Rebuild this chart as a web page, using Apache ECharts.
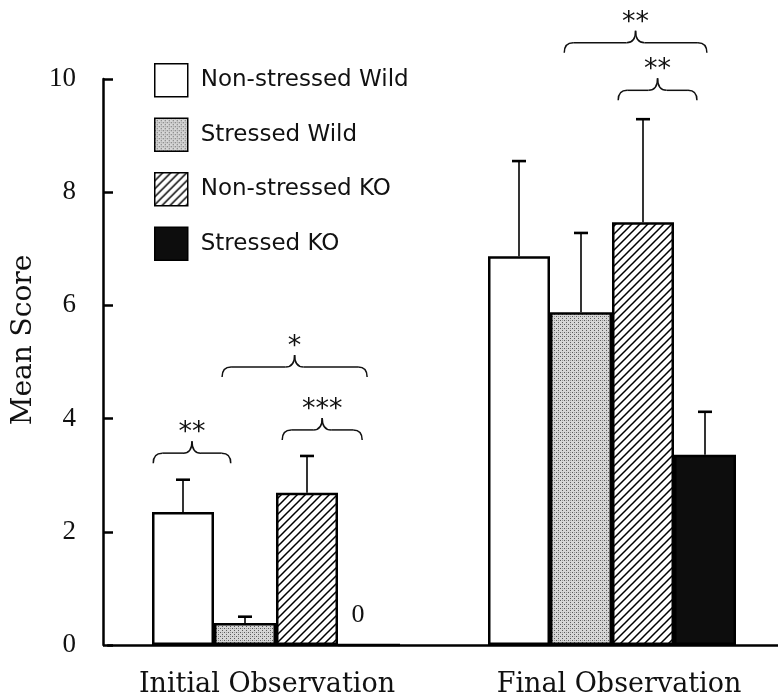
<!DOCTYPE html>
<html>
<head>
<meta charset="utf-8">
<script src="https://cdn.jsdelivr.net/npm/echarts@6/dist/echarts.min.js"></script>
<style>
  html, body { margin: 0; padding: 0; background: #fff; }
  #chart { width: 778px; height: 697px; }
</style>
</head>
<body>
<div id="chart"></div>
<script>
// categories and legend names
const categories = ['Initial Observation', 'Final Observation']
const seriesNames = ['Non-stressed Wild', 'Stressed Wild', 'Non-stressed KO', 'Stressed KO']

// mean scores (one value per category)
const nonStressedWild = [2.35, 6.87]
const stressedWild = [0.39, 5.88]
const nonStressedKO = [2.69, 7.47]
const stressedKO = [0, 3.36]

// top of the error bars
const nonStressedWildErr = [2.92, 8.55]
const stressedWildErr = [0.5, 7.28]
const nonStressedKOErr = [3.34, 9.29]
const stressedKOErr = [null, 4.12]

// y axis ticks
const yTicks = [0, 2, 4, 6, 8, 10]

// significance braces: category, first / last bar slot, level, stars
const braceCat = [0, 0, 0, 1, 1]
const braceFrom = [-0.48, 0.63, 1.6, 0.73, 1.6]
const braceTo = [0.77, 2.97, 2.89, 3.03, 2.87]
const braceLevel = [3.39, 4.91, 3.8, 10.64, 9.8]
const braceStars = ['**', '*', '***', '**', '**']

const BAR_W = 62

// fill patterns
const makeTile = (size, draw) => {
  const c = document.createElement('canvas')
  c.width = size
  c.height = size
  draw(c.getContext('2d'), size)
  return { image: c, repeat: 'repeat' }
}

const stipple = makeTile(4, (ctx) => {
  ctx.fillStyle = '#d6d6d6'
  ctx.fillRect(0, 0, 4, 4)
  ctx.fillStyle = '#5a5a5a'
  ctx.fillRect(0, 0, 1, 1)
  ctx.fillRect(2, 2, 1, 1)
  ctx.fillStyle = '#9a9a9a'
  ctx.fillRect(2, 0, 1, 1)
})

const hatch = makeTile(8, (ctx, s) => {
  ctx.fillStyle = '#fff'
  ctx.fillRect(0, 0, s, s)
  ctx.strokeStyle = '#000'
  ctx.lineWidth = 1.5
  ctx.beginPath()
  ctx.moveTo(-1, s + 1); ctx.lineTo(s + 1, -1)
  ctx.moveTo(-1, 1); ctx.lineTo(1, -1)
  ctx.moveTo(s - 1, s + 1); ctx.lineTo(s + 1, s - 1)
  ctx.stroke()
})

const fills = ['#ffffff', stipple, hatch, '#0d0d0d']
const means = [nonStressedWild, stressedWild, nonStressedKO, stressedKO]
const errs = [nonStressedWildErr, stressedWildErr, nonStressedKOErr, stressedKOErr]

const errData = []
errs.forEach((arr, s) => {
  arr.forEach((top, c) => {
    if (top != null) errData.push([c, s, means[s][c], top])
  })
})

const braceData = braceCat.map((c, i) => [c, braceFrom[i], braceTo[i], braceLevel[i]])

const chart = echarts.init(document.getElementById('chart'))

const barSeries = seriesNames.map((name, s) => ({
  name,
  type: 'bar',
  barWidth: BAR_W,
  barGap: '0%',
  data: means[s].map(v => v === 0
    ? { value: v, label: { show: true, position: 'top', distance: 16, offset: [-11, 0], formatter: '0' } }
    : v),
  label: {
    show: false,
    fontFamily: 'Liberation Serif',
    fontSize: 26,
    color: '#111'
  },
  itemStyle: {
    color: fills[s],
    borderColor: '#000',
    borderWidth: 2.5
  }
}))

const errSeries = {
  type: 'custom',
  z: 5,
  silent: true,
  data: errData,
  encode: { x: 0, y: 3 },
  renderItem: (params, api) => {
    const c = api.value(0)
    const s = api.value(1)
    const base = api.coord([c, api.value(2)])
    const top = api.coord([c, api.value(3)])
    const x = base[0] + (s - 1.5) * BAR_W
    return {
      type: 'group',
      children: [
        { type: 'line', shape: { x1: x, y1: base[1], x2: x, y2: top[1] }, style: { stroke: '#000', lineWidth: 1.6 } },
        { type: 'line', shape: { x1: x - 7, y1: top[1], x2: x + 7, y2: top[1] }, style: { stroke: '#000', lineWidth: 2.6 } }
      ]
    }
  }
}

const braceSeries = {
  type: 'custom',
  z: 6,
  silent: true,
  clip: false,
  data: braceData,
  encode: { x: 0, y: 3 },
  renderItem: (params, api) => {
    const p = api.coord([api.value(0), api.value(3)])
    const x0 = p[0] + (api.value(1) - 1.5) * BAR_W
    const x1 = p[0] + (api.value(2) - 1.5) * BAR_W
    const y = p[1]
    const xm = (x0 + x1) / 2
    const h = 10, t = 12, r = 9
    const st = { stroke: '#111', lineWidth: 1.5, fill: null }
    return {
      type: 'group',
      children: [
        { type: 'bezierCurve', shape: { x1: x0, y1: y + h, cpx1: x0, cpy1: y, x2: x0 + r, y2: y }, style: st },
        { type: 'line', shape: { x1: x0 + r, y1: y, x2: xm - r, y2: y }, style: st },
        { type: 'bezierCurve', shape: { x1: xm - r, y1: y, cpx1: xm, cpy1: y, x2: xm, y2: y - t }, style: st },
        { type: 'bezierCurve', shape: { x1: xm, y1: y - t, cpx1: xm, cpy1: y, x2: xm + r, y2: y }, style: st },
        { type: 'line', shape: { x1: xm + r, y1: y, x2: x1 - r, y2: y }, style: st },
        { type: 'bezierCurve', shape: { x1: x1 - r, y1: y, cpx1: x1, cpy1: y, x2: x1, y2: y + h }, style: st },
        {
          type: 'text',
          style: {
            x: xm, y: y - t - 8,
            text: braceStars[params.dataIndex],
            fontFamily: 'DejaVu Sans',
            fontSize: 27,
            fill: '#111',
            align: 'center',
            verticalAlign: 'middle'
          }
        }
      ]
    }
  }
}

const option = {
  animation: false,
  backgroundColor: '#fff',
  legend: {
    data: seriesNames,
    orient: 'vertical',
    left: 154,
    top: 63,
    padding: 0,
    itemWidth: 33,
    itemHeight: 33,
    itemGap: 20,
    icon: 'rect',
    itemStyle: { borderColor: '#000', borderWidth: 1.5 },
    textStyle: {
      fontFamily: 'DejaVu Sans',
      fontSize: 23,
      color: '#111',
      padding: [0, 0, 0, 8]
    }
  },
  grid: { left: 108, right: -2, top: 79, bottom: 52, outerBoundsMode: 'none', containLabel: false },
  xAxis: {
    type: 'category',
    data: categories,
    axisLine: { lineStyle: { color: '#000', width: 2.5 } },
    axisTick: { inside: true, length: 8, lineStyle: { color: '#000', width: 1.5 } },
    axisLabel: {
      margin: 26,
      formatter: (v, i) => i === 0 ? '{a|' + v + '}' : '{b|' + v + '}',
      rich: {
        a: { fontFamily: 'DejaVu Serif', fontSize: 27, color: '#111', padding: [0, 18, 0, 0] },
        b: { fontFamily: 'DejaVu Serif', fontSize: 27, color: '#111', padding: [0, 0, 0, 14] }
      }
    }
  },
  yAxis: {
    type: 'value',
    min: yTicks[0],
    max: yTicks[yTicks.length - 1],
    interval: 2,
    offset: 5,
    name: 'Mean Score',
    nameLocation: 'middle',
    nameRotate: 90,
    nameGap: 64,
    nameTextStyle: {
      fontFamily: 'DejaVu Serif',
      fontSize: 28,
      color: '#111',
      padding: [0, 0, 0, 44]
    },
    axisLine: { show: true, lineStyle: { color: '#000', width: 2.5 } },
    axisTick: { show: true, inside: true, length: 10, lineStyle: { color: '#000', width: 2.5 } },
    axisLabel: {
      margin: 27,
      fontFamily: 'Liberation Serif',
      fontSize: 27,
      color: '#111'
    },
    splitLine: { show: false }
  },
  series: [...barSeries, errSeries, braceSeries]
}

chart.setOption(option)
</script>
</body>
</html>
